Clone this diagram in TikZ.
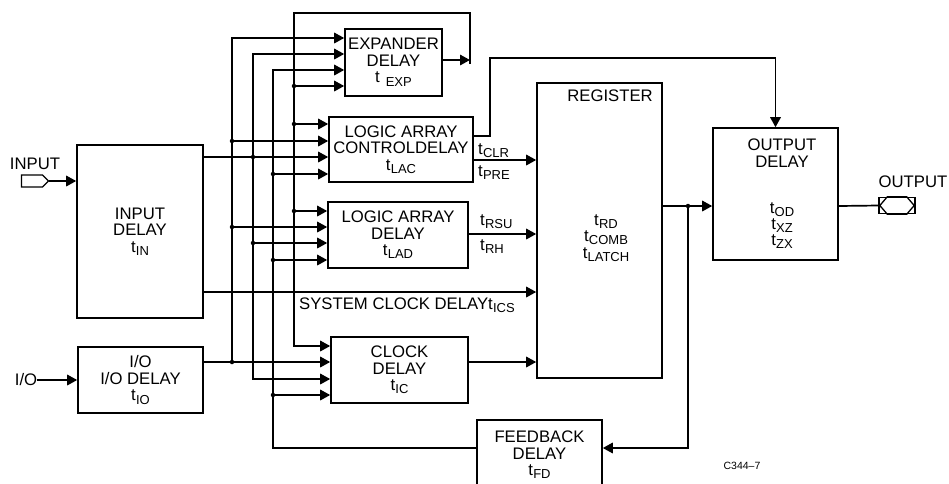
\documentclass[tikz,border=0pt]{standalone}
\usepackage{fontspec}
\setmainfont{Liberation Sans}
\usetikzlibrary{arrows.meta,shapes.symbols,calc}
\newcommand{\tsub}[1]{t\kern0.2pt\raisebox{-0.35ex}{\fontsize{13}{13}\selectfont #1}}
\begin{document}
\begin{tikzpicture}[x=1pt,y=-1pt,
  txt/.style={font=\fontsize{16.7}{16.5}\selectfont},
  box/.style={draw, line width=1.6pt, inner sep=0pt, align=center, txt},
  lbl/.style={inner sep=0pt, align=center, txt},
  sublbl/.style={inner sep=0pt, anchor=west, txt},
  wire/.style={line width=1.7pt},
  arr/.style={wire, -{Triangle[length=10pt,width=10.5pt]}},
  jdot/.style={circle, fill, inner sep=0pt, minimum size=4.5pt},
  pin/.style={draw, line width=1.4pt, inner sep=0pt}]
\useasboundingbox (0,0) rectangle (949,483);
\clip (0,0) rectangle (949,483);

% boxes
\node[box, minimum width=126pt, minimum height=173pt] (ind) at (140,231.5) {INPUT\\DELAY\\\tsub{IN}};
\node[box, minimum width=125pt, minimum height=66pt] (iod) at (140.5,380) {I/O\\I/O DELAY\\\tsub{IO}};
\node[box, minimum width=97pt, minimum height=67pt] (exp) at (393.5,62.5) {EXPANDER\\DELAY\\t\hspace{6pt}\raisebox{-0.4ex}{\fontsize{13}{13}\selectfont EXP}};
\node[box, minimum width=144pt, minimum height=65pt] (lac) at (401,149.5) {LOGIC ARRAY\\CONTROLDELAY\\\tsub{LAC}};
\node[box, minimum width=140pt, minimum height=66pt] (lad) at (398,235) {LOGIC ARRAY\\DELAY\\\tsub{LAD}};
\node[box, minimum width=137pt, minimum height=66pt] (clk) at (399.5,370) {CLOCK\\DELAY\\\tsub{IC}};
\node[box, minimum width=125pt, minimum height=70pt, anchor=north] (fbd) at (539.5,419) {FEEDBACK\\DELAY\\\tsub{FD}};
\node[box, minimum width=125pt, minimum height=295pt] (reg) at (599.5,230.5) {};
\node[box, minimum width=125pt, minimum height=132pt] (od) at (775.5,194) {};

\node[lbl] (regt) at (610,96) {REGISTER};
\node[lbl] (regd) at (606,238) {\tsub{RD}\\\tsub{COMB}\\\tsub{LATCH}};
\node[lbl] (odt) at (782,153) {OUTPUT\\DELAY};
\node[lbl, font=\fontsize{16.7}{16}\selectfont] (odd) at (782,226) {\tsub{OD}\\\tsub{XZ}\\\tsub{ZX}};

% pins
\node[pin, signal, signal to=east, minimum width=27pt, minimum height=12pt] (inpin) at (32,181) {};
\node[lbl] (inlab) at (35,164) {INPUT};
\node[lbl] (iolab) at (26,380) {I/O};
\node[pin, minimum width=36pt, minimum height=16pt] (opin) at (897,205.5) {};
\draw[line width=1.3pt] ($(opin.west)+(1.5,0)$) -- ($(opin.north west)+(9,0)$) -- ($(opin.north east)+(-9,0)$)
  -- ($(opin.east)+(-1.5,0)$) -- ($(opin.south east)+(-9,0)$) -- ($(opin.south west)+(9,0)$) -- cycle;
\node[lbl] (oplab) at (913,182) {OUTPUT};

\draw[arr] (inpin.east) -- (ind.west |- inpin.east);
\draw[arr] (iolab.east) -- (iod.west |- iolab.east);

% bus A (I/O)
\draw[arr] (iod.east |- 0,362) -- (clk.west |- 0,362);
\draw[arr] (232,362) |- (exp.west |- 0,38);
\draw[arr] (232,141) -- (lac.west |- 0,141);
\draw[arr] (232,227) -- (lad.west |- 0,227);
% bus B (input)
\draw[arr] (ind.east |- 0,157) -- (lac.west |- 0,157);
\draw[arr] (253,157) |- (exp.west |- 0,54);
\draw[arr] (253,157) |- (clk.west |- 0,379);
\draw[arr] (253,243) -- (lad.west |- 0,243);
% bus C (feedback)
\draw[arr] (fbd.west |- 0,448) -| (273,70) -- (exp.west |- 0,70);
\draw[arr] (273,174) -- (lac.west |- 0,174);
\draw[arr] (273,260) -- (lad.west |- 0,260);
\draw[arr] (273,395) -- (clk.west |- 0,395);
% bus D (expander)
\draw[arr] (exp.east |- 0,60) -- (470,60);
\draw[arr] (470,64) |- (294,13) |- (clk.west |- 0,346);
\draw[arr] (294,86) -- (exp.west |- 0,86);
\draw[arr] (294,124) -- (lac.west |- 0,124);
\draw[arr] (294,211) -- (lad.west |- 0,211);

% junction dots
\foreach \p in {(232,362),(232,141),(232,227),(253,157),(253,243),(273,174),(273,260),(273,395),(294,86),(294,124),(294,211),(688,206)}
  \node[jdot] at \p {};

% outputs to register
\draw[arr] (lac.east |- 0,136) -| (490,58) -| (od.north);
\draw[arr] (lac.east |- 0,160) -- (reg.west |- 0,160);
\draw[arr] (lad.east |- 0,234) -- (reg.west |- 0,234);
\draw[arr] (ind.east |- 0,292) -- (reg.west |- 0,292);
\draw[arr] (clk.east |- 0,362) -- (reg.west |- 0,362);
\draw[arr] (reg.east |- 0,206) -- (od.west |- 0,206);
\draw[arr] (688,206) |- (fbd.east |- 0,448);
\draw[wire] (od.east |- 0,206) -- (opin.west);

% timing labels
\node[sublbl] (tclr) at (478,151) {\tsub{CLR}};
\node[sublbl] (tpre) at (478,173) {\tsub{PRE}};
\node[sublbl] (trsu) at (480,222) {\tsub{RSU}};
\node[sublbl] (trh) at (480,247) {\tsub{RH}};
\node[sublbl] (sysclk) at (299,305) {SYSTEM CLOCK DELAY\tsub{ICS}};
\node[inner sep=0pt, font=\fontsize{10.5}{10.5}\selectfont] (code) at (742,466) {C344--7};
\end{tikzpicture}
\end{document}
